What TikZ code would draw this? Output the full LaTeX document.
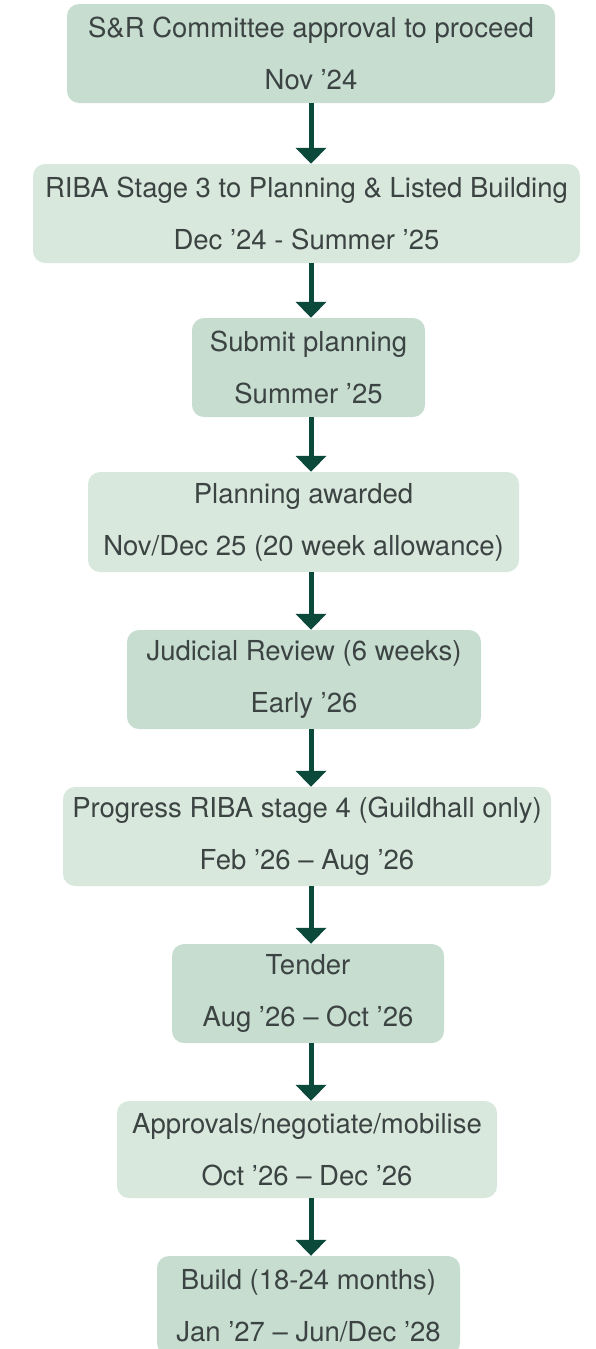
\documentclass[tikz,border=0pt]{standalone}
\usepackage{fontspec}
\setmainfont{TeX Gyre Heros}
\usepackage{tikz}
\usetikzlibrary{arrows.meta,positioning}

\definecolor{stepdark}{HTML}{C7DDD0}
\definecolor{steplight}{HTML}{D9E8DC}
\definecolor{arrowgreen}{HTML}{0B4A3B}
\definecolor{textgrey}{HTML}{3C4343}

\tikzset{
  stage/.style={rectangle, rounded corners=12pt, inner sep=0pt, align=center,
    minimum height=99pt, text=textgrey,
    font=\fontsize{27.5}{52}\selectfont},
  darkstage/.style={stage, fill=stepdark},
  lightstage/.style={stage, fill=steplight},
  flow/.style={draw=arrowgreen, line width=5pt,
    -{Triangle[width=30pt,length=16pt]}}
}

\begin{document}
\begin{tikzpicture}[x=1pt,y=-1pt]
	\useasboundingbox (0,0) rectangle (595,1349);
	\node (1) [darkstage, minimum width=488pt] at (311,53.5) {S\&R Committee approval to proceed\\Nov ’24};
	\node (2) [lightstage, minimum width=547pt] at (306.5,213.5) {RIBA Stage 3 to Planning \& Listed Building\\Dec ’24 - Summer ’25};
	\node (3) [darkstage, minimum width=233pt] at (308.5,367.5) {Submit planning\\Summer ’25};
	\node (4) [lightstage, minimum width=431pt, minimum height=100pt] at (303.5,522) {Planning awarded\\Nov/Dec 25 (20 week allowance)};
	\node (5) [darkstage, minimum width=354pt] at (304,679.5) {Judicial Review (6 weeks)\\Early ’26};
	\node (6) [lightstage, minimum width=488pt] at (307,836.5) {Progress RIBA stage 4 (Guildhall only)\\Feb ’26 – Aug ’26};
	\node (7) [darkstage, minimum width=272pt] at (308,993.5) {Tender\\Aug ’26 – Oct ’26};
	\node (8) [lightstage, minimum width=380pt, minimum height=97pt] at (307,1149.5) {Approvals/negotiate/mobilise\\Oct ’26 – Dec ’26};
	\node (9) [darkstage, minimum width=303pt] at (308.5,1305.5) {Build (18-24 months)\\Jan ’27 – Jun/Dec ’28};

	\coordinate (axis) at (311,0);

	\foreach \a/\b in {1/2,2/3,3/4,4/5,5/6,6/7,7/8,8/9}
		\draw[flow] (\a.south -| axis) -- (\b.north -| axis);
\end{tikzpicture}
\end{document}
